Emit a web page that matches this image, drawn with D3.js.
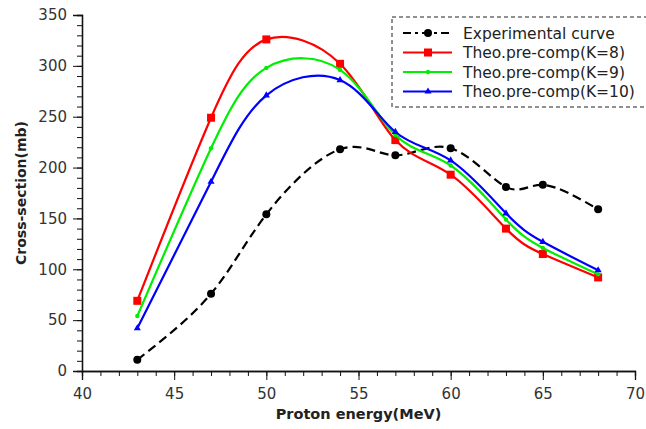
<!DOCTYPE html>
<html>
<head>
<meta charset="utf-8">
<script src="https://cdn.jsdelivr.net/npm/d3@7"></script>
<style>
  body { margin: 0; background: #fff; }
  text { font-family: "DejaVu Sans", sans-serif; }
</style>
</head>
<body>
<svg id="chart" width="646" height="429"></svg>
<script>
// data
const energy = [43, 47, 50, 54, 57, 60, 63, 65, 68]
const experimental = [11, 76, 154, 218, 212, 219, 181, 183, 159]
const k8 = [69, 249, 326, 302, 227, 193, 140, 115, 92]
const k9 = [54, 219, 298, 296, 232, 202, 149, 121, 95]
const k10 = [42, 186, 271, 286, 235, 207, 155, 127, 99]
const seriesNames = ["Experimental curve", "Theo.pre-comp(K=8)", "Theo.pre-comp(K=9)", "Theo.pre-comp(K=10)"]
const xTicks = [40, 45, 50, 55, 60, 65, 70]
const yTicks = [0, 50, 100, 150, 200, 250, 300, 350]

const svg = d3.select("#chart")
const m = {l: 82, t: 15, r: 11, b: 58}
const W = 646, H = 429

const x = d3.scaleLinear().domain([40, 70]).range([m.l, W - m.r])
const y = d3.scaleLinear().domain([0, 350]).range([H - m.b, m.t])

const series = [
  {name: seriesNames[0], vals: experimental, colour: "#000", dash: "9,5", marker: "circle"},
  {name: seriesNames[1], vals: k8, colour: "#ff0000", dash: null, marker: "square"},
  {name: seriesNames[2], vals: k9, colour: "#00ee00", dash: null, marker: "dot"},
  {name: seriesNames[3], vals: k10, colour: "#0000ff", dash: null, marker: "triangle"}
]

// axes
const xAxis = svg.append("g").attr("transform", `translate(0,${y(0)})`)
xAxis.call(d3.axisBottom(x).tickValues(d3.range(40, 71, 1)).tickSize(5).tickFormat(""))
xAxis.append("g").call(d3.axisBottom(x).tickValues(xTicks).tickSize(9).tickPadding(8).tickFormat(d3.format("d")))
const yAxis = svg.append("g").attr("transform", `translate(${x(40)},0)`)
yAxis.call(d3.axisLeft(y).tickValues(d3.range(0, 351, 10)).tickSize(5).tickFormat(""))
yAxis.append("g").call(d3.axisLeft(y).tickValues(yTicks).tickSize(9).tickPadding(6))
svg.selectAll(".domain").attr("stroke", "#111").attr("stroke-width", 1.3)
svg.selectAll(".tick line").attr("stroke", "#111")
svg.selectAll(".tick text").attr("font-size", 15).attr("fill", "#333")
  .attr("font-family", "DejaVu Sans, sans-serif")

svg.append("text")
  .attr("x", (x(40) + x(70)) / 2).attr("y", 419)
  .attr("text-anchor", "middle").attr("font-weight", "bold").attr("font-size", 14.5)
  .attr("fill", "#222").text("Proton energy(MeV)")
svg.append("text")
  .attr("transform", `translate(26,${y(175)}) rotate(-90)`)
  .attr("text-anchor", "middle").attr("font-weight", "bold").attr("font-size", 14)
  .attr("fill", "#222").text("Cross-section(mb)")

const drawMarker = (g, type, cx, cy, c) => {
  if (type === "circle") g.append("circle").attr("cx", cx).attr("cy", cy).attr("r", 4).attr("fill", c)
  else if (type === "square") g.append("rect").attr("x", cx - 4).attr("y", cy - 4).attr("width", 8).attr("height", 8).attr("fill", c)
  else if (type === "dot") g.append("circle").attr("cx", cx).attr("cy", cy).attr("r", 2.2).attr("fill", c)
  else g.append("path").attr("d", d3.symbol(d3.symbolTriangle, 22)()).attr("transform", `translate(${cx},${cy})`).attr("fill", c)
}

const line = d3.line().x(d => x(d[0])).y(d => y(d[1])).curve(d3.curveNatural)

series.forEach(s => {
  const pts = energy.map((e, i) => [e, s.vals[i]])
  const g = svg.append("g")
  g.append("path").attr("d", line(pts)).attr("fill", "none")
    .attr("stroke", s.colour).attr("stroke-width", 2.2)
    .attr("stroke-dasharray", s.dash)
  pts.forEach(p => drawMarker(g, s.marker, x(p[0]), y(p[1]), s.colour))
})

// legend
const lg = svg.append("g")
lg.append("rect").attr("x", 392).attr("y", 17).attr("width", 270).attr("height", 90)
  .attr("fill", "#fff").attr("stroke", "#222").attr("stroke-dasharray", "4,3")
series.forEach((s, i) => {
  const ly = 33 + i * 19.5
  lg.append("line").attr("x1", 403).attr("x2", 452).attr("y1", ly).attr("y2", ly)
    .attr("stroke", s.colour).attr("stroke-width", 2.2)
    .attr("stroke-dasharray", s.dash ? "8,4,3,4" : null)
  drawMarker(lg, s.marker, 428, ly, s.colour)
  lg.append("text").attr("x", 463).attr("y", ly + 5.5).attr("font-size", 15.5)
    .attr("fill", "#222").text(s.name)
})
</script>
</body>
</html>
